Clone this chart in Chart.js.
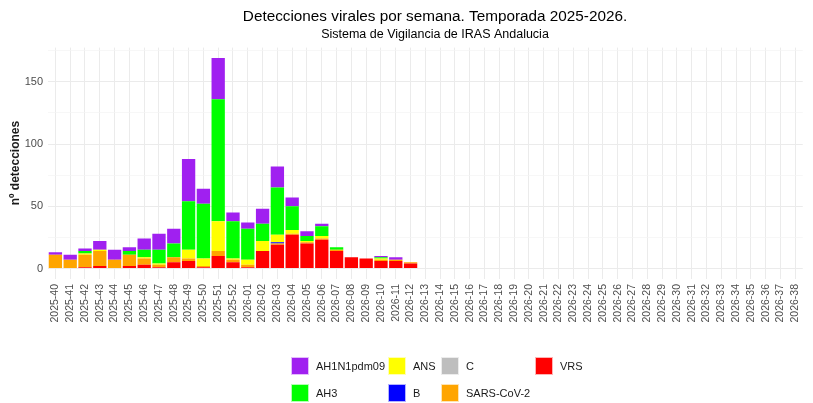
<!DOCTYPE html>
<html>
<head>
<meta charset="utf-8">
<script src="https://cdn.jsdelivr.net/npm/chart.js@4/dist/chart.umd.min.js"></script>
<style>
  html, body { margin: 0; padding: 0; background: #ffffff; }
  #wrap { width: 813px; height: 403px; position: relative; }
</style>
</head>
<body>
<div id="wrap"><canvas id="c" width="813" height="403"></canvas></div>
<script>
const weeks = [
  "2025-40","2025-41","2025-42","2025-43","2025-44","2025-45","2025-46","2025-47","2025-48","2025-49",
  "2025-50","2025-51","2025-52","2026-01","2026-02","2026-03","2026-04","2026-05","2026-06","2026-07",
  "2026-08","2026-09","2026-10","2026-11","2026-12","2026-13","2026-14","2026-15","2026-16","2026-17",
  "2026-18","2026-19","2026-20","2026-21","2026-22","2026-23","2026-24","2026-25","2026-26","2026-27",
  "2026-28","2026-29","2026-30","2026-31","2026-32","2026-33","2026-34","2026-35","2026-36","2026-37",
  "2026-38"
];
const Z26 = [0,0,0,0,0,0,0,0,0,0,0,0,0,0,0,0,0,0,0,0,0,0,0,0,0,0];
const ah1n1pdm09 = [2,4,2,7,8,3,9,13,12,34,12,33,7,5,12,17,7,4,2,0,0,0,1,2,0].concat(Z26);
const ah3        = [0,0,2,0,0,3,6,11,11,39,44,98,30,25,14,38,19,4,8,2,0,0,1,0,0].concat(Z26);
const ans        = [0,0,1,1,0,0,1,1,0,7,6,24,1,4,8,6,3,1,2,0,0,0,1,0,0].concat(Z26);
const virusB     = [0,0,0,0,0,0,0,0,0,0,0,0,0,0,0,1,0,0,0,0,0,0,0,0,0].concat(Z26);
const virusC     = [0,0,0,0,0,0,0,0,0,0,0,0,0,0,0,0,0,0,0,0,0,0,0,0,0].concat(Z26);
const sarsCov2   = [11,7,10,12,7,9,5,2,4,2,1,4,2,2,0,1,1,1,1,1,0,0,1,1,1].concat(Z26);
const vrs        = [0,0,1,2,0,2,3,1,5,6,1,10,5,1,14,19,27,20,23,14,9,8,6,6,4].concat(Z26);
const yTicks = [0,25,50,75,100,125,150,175];
const yLabelTicks = [0,50,100,150];

const titleText = "Detecciones virales por semana. Temporada 2025-2026.";
const subtitleText = "Sistema de Vigilancia de IRAS Andalucia";
const yTitleText = "nº detecciones";

const FONT = "'Liberation Sans', Arial, sans-serif";

const legendItems = [
  {label:"AH1N1pdm09", color:"#A020F0", col:0, row:0},
  {label:"AH3",        color:"#00FF00", col:0, row:1},
  {label:"ANS",        color:"#FFFF00", col:1, row:0},
  {label:"B",          color:"#0000FF", col:1, row:1},
  {label:"C",          color:"#BEBEBE", col:2, row:0},
  {label:"SARS-CoV-2", color:"#FFA500", col:2, row:1},
  {label:"VRS",        color:"#FF0000", col:3, row:0}
];
const legendColX = [291, 388, 441, 535];
const legendRowY = [357, 384];

const extrasPlugin = {
  id: 'extras',
  afterDraw(chart) {
    const ctx = chart.ctx;
    ctx.save();
    ctx.fillStyle = '#000000';
    ctx.textAlign = 'center';
    ctx.textBaseline = 'middle';
    ctx.font = "15.3px " + FONT;
    ctx.fillText(titleText, 435, 17);
    ctx.font = "12.5px " + FONT;
    ctx.fillText(subtitleText, 435, 35);
    ctx.save();
    ctx.translate(16, 163);
    ctx.rotate(-Math.PI/2);
    ctx.font = "bold 12px " + FONT;
    ctx.fillStyle = '#1a1a1a';
    ctx.fillText(yTitleText, 0, 0);
    ctx.restore();
    ctx.textAlign = 'left';
    ctx.font = "11px " + FONT;
    legendItems.forEach(it => {
      const x = legendColX[it.col], y = legendRowY[it.row];
      ctx.fillStyle = it.color;
      ctx.fillRect(x, y, 18, 18);
      ctx.strokeStyle = 'rgba(255,255,255,0.7)';
      ctx.lineWidth = 1;
      ctx.strokeRect(x + 0.5, y + 0.5, 17, 17);
      ctx.fillStyle = '#1a1a1a';
      ctx.fillText(it.label, x + 25, y + 9.5);
    });
    ctx.restore();
  }
};

const mk = (label, data, color) => ({
  label, data, backgroundColor: color, borderWidth: 0,
  barPercentage: 0.9, categoryPercentage: 1.0
});

new Chart(document.getElementById('c'), {
  type: 'bar',
  data: {
    labels: weeks,
    datasets: [
      mk("VRS", vrs, "#FF0000"),
      mk("SARS-CoV-2", sarsCov2, "#FFA500"),
      mk("C", virusC, "#BEBEBE"),
      mk("B", virusB, "#0000FF"),
      mk("ANS", ans, "#FFFF00"),
      mk("AH3", ah3, "#00FF00"),
      mk("AH1N1pdm09", ah1n1pdm09, "#A020F0")
    ]
  },
  plugins: [extrasPlugin],
  options: {
    responsive: false,
    animation: false,
    devicePixelRatio: 1,
    layout: { padding: { top: 47.6, right: 4, bottom: 0, left: 0 } },
    plugins: {
      legend: { display: false },
      title: { display: false },
      tooltip: { enabled: false }
    },
    scales: {
      x: {
        stacked: true,
        offset: true,
        grid: { display: true, offset: false, color: '#EBEBEB', lineWidth: 1, drawTicks: false },
        border: { display: false },
        ticks: {
          autoSkip: false, maxRotation: 90, minRotation: 90, padding: 5,
          color: '#4D4D4D', font: { family: FONT, size: 10.5 }
        },
        afterFit(scale) { scale.height = 403 - 279; }
      },
      y: {
        stacked: true,
        min: -8.45, max: 177.45,
        grid: {
          drawTicks: false,
          color: ctx => (ctx.tick && yLabelTicks.includes(ctx.tick.value)) ? '#EBEBEB' : '#F4F4F4',
          lineWidth: ctx => (ctx.tick && yLabelTicks.includes(ctx.tick.value)) ? 1 : 0.7
        },
        border: { display: false },
        afterBuildTicks(scale) { scale.ticks = yTicks.map(v => ({ value: v })); },
        ticks: {
          padding: 5, color: '#4D4D4D', font: { family: FONT, size: 11 },
          callback: v => yLabelTicks.includes(v) ? String(v) : ''
        },
        afterFit(scale) { scale.width = 48; }
      }
    }
  }
});
</script>
</body>
</html>
